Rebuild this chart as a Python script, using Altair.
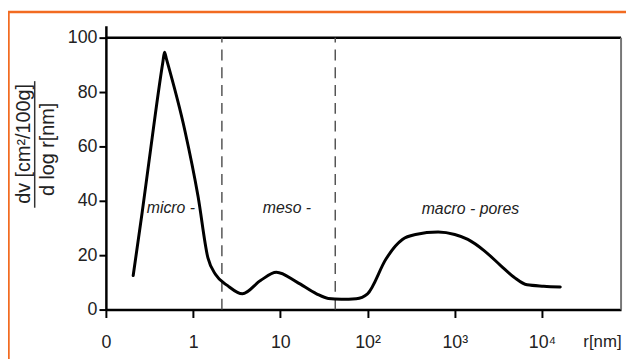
import altair as alt
import pandas as pd

# ---- data (x given as log10 of r[nm]; axis position -1 is labelled "0") ----
log_r = [-0.687, -0.585, -0.509, -0.347, -0.328, -0.305, -0.094, 0.057, 0.17, 0.26,
         0.396, 0.566, 0.773, 0.955, 1.19, 1.415, 1.55, 1.70, 1.87, 2.0,
         2.21, 2.32, 2.40, 2.55, 2.81, 3.0, 3.15, 3.34, 3.53, 3.68,
         3.83, 4.02, 4.21]
dv = [12.5, 35.5, 53.7, 91.0, 94.7, 92.1, 65.8, 41.6, 19.0, 12.8,
      8.8, 5.8, 10.7, 13.7, 10.1, 5.8, 4.1, 3.8, 4.0, 5.8,
      18.5, 23.4, 25.8, 27.6, 28.5, 27.6, 25.8, 21.6, 16.1, 11.9,
      9.1, 8.6, 8.3]

boundaries = [0.33, 1.63]  # micro/meso and meso/macro limits (log10 r)

region_labels = ["micro -", "meso -", "macro - pores"]
region_x = [-0.255, 1.076, 3.18]
region_y = [37.5, 37.5, 37.0]

x_tick_values = [-1, 0, 1, 2, 3, 4]
x_tick_labels = ["0", "1", "10", "10²", "10³", "10⁴"]
y_tick_values = [0, 20, 40, 60, 80, 100]

y_title_top = "dv [cm²/100g]"
y_title_bottom = "d log r[nm]"
x_title = "r[nm]"

X_MIN, X_MAX = -1, 4.907
Y_MIN, Y_MAX = 0, 104.4

W, H = 521, 287
FONT = "Liberation Sans"
ORANGE = "#F26B21"

curve = pd.DataFrame({"x": log_r, "y": dv})
bounds = pd.DataFrame({"x": boundaries, "y": [0] * len(boundaries), "y2": [100] * len(boundaries)})
labels = pd.DataFrame({"x": region_x, "y": region_y, "t": region_labels})

label_expr = " : ".join(
    f"datum.value == {v} ? '{l}'" for v, l in zip(x_tick_values, x_tick_labels)
) + " : ''"

xscale = alt.Scale(domain=[X_MIN, X_MAX], nice=False, zero=False)
yscale = alt.Scale(domain=[Y_MIN, Y_MAX], nice=False, zero=False)

xaxis = alt.Axis(
    values=x_tick_values, labelExpr=label_expr, grid=False,
    domainColor="#000", domainWidth=2.5, tickColor="#000", tickWidth=2, tickSize=8,
    labelFont=FONT, labelFontSize=18, labelColor="#222", labelPadding=16,
    labelFlush=False, labelOverlap=False, labelBound=False,
    title=x_title, titleFont=FONT, titleFontSize=17, titleFontWeight="normal",
    titleColor="#222", titleX=W, titleY=37, titleAlign="right",
    titleBaseline="alphabetic", titleAngle=0,
)
yaxis = alt.Axis(
    values=y_tick_values, grid=False, title=None,
    domainColor="#000", domainWidth=2.5, tickColor="#000", tickWidth=2, tickSize=7,
    labelFont=FONT, labelFontSize=18, labelColor="#222", labelPadding=2,
    labelOverlap=False, labelFlush=False, labelBound=False,
)

base_line = alt.Chart(curve).mark_line(
    color="#000", strokeWidth=3, interpolate="monotone", strokeCap="round", strokeJoin="round"
).encode(
    x=alt.X("x:Q", scale=xscale, axis=xaxis),
    y=alt.Y("y:Q", scale=yscale, axis=yaxis),
)

dashes = alt.Chart(bounds).mark_rule(
    color="#555", strokeWidth=1.5, strokeDash=[11, 7]
).encode(x="x:Q", y="y:Q", y2="y2:Q")

text = alt.Chart(labels).mark_text(
    font=FONT, fontSize=16, fontStyle="italic", color="#222", align="center", baseline="middle"
).encode(x="x:Q", y="y:Q", text="t:N")

frame_df = pd.DataFrame({"x": [X_MIN], "x2": [X_MAX], "y": [100], "y0": [0]})
top_line = alt.Chart(frame_df).mark_rule(color="#000", strokeWidth=2.5).encode(
    x="x:Q", x2="x2:Q", y="y:Q"
)
right_line = alt.Chart(frame_df).mark_rule(color="#777", strokeWidth=2).encode(
    x="x2:Q", y="y0:Q", y2="y:Q"
)

# y-axis title as a fraction
title_top = alt.Chart(frame_df).mark_text(
    font=FONT, fontSize=20, color="#222", angle=270, align="center", baseline="middle",
    text=y_title_top,
).encode(x=alt.value(-83), y=alt.value(119.5))
title_bottom = alt.Chart(frame_df).mark_text(
    font=FONT, fontSize=20, color="#222", angle=270, align="center", baseline="middle",
    text=y_title_bottom,
).encode(x=alt.value(-58.5), y=alt.value(125))
frac_bar = alt.Chart(frame_df).mark_rule(color="#333", strokeWidth=1.5).encode(
    x=alt.value(-72), y=alt.value(56), y2=alt.value(184)
)

# orange outer border (top and left edges visible in the reference)
orange_top = alt.Chart(frame_df).mark_rule(color=ORANGE, strokeWidth=2.5).encode(
    x=alt.value(-99), x2=alt.value(540), y=alt.value(-14)
)
orange_left = alt.Chart(frame_df).mark_rule(color=ORANGE, strokeWidth=2.5).encode(
    x=alt.value(-98.5), y=alt.value(-15), y2=alt.value(345)
)

chart = alt.layer(
    orange_top, orange_left, top_line, right_line, dashes, base_line, text,
    title_top, title_bottom, frac_bar
).properties(
    width=W, height=H,
    autosize=alt.AutoSizeParams(type="none"),
    padding={"left": 99, "top": 16, "right": 5, "bottom": 48},
    background="white",
).configure_view(stroke=None)

chart.save("out.html", embed_options={"renderer": "svg", "actions": False})
